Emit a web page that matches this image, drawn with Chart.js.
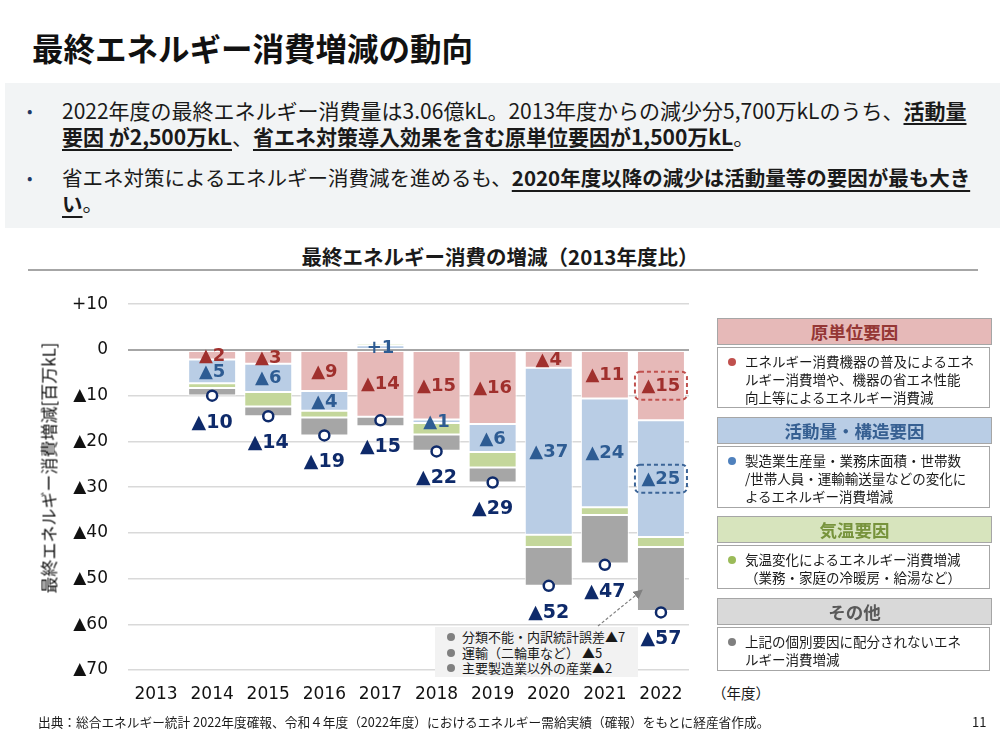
<!DOCTYPE html>
<html lang="ja">
<head>
<meta charset="utf-8">
<script src="https://cdn.jsdelivr.net/npm/chart.js@4.4.1/dist/chart.umd.min.js"></script>
<style>
  body { margin: 0; background: #fff; }
  #page { position: relative; width: 1000px; height: 750px; overflow: hidden;
          font-family: "Noto Sans CJK JP", "Noto Sans", sans-serif; color: #1a1a1a; }
  .abs { position: absolute; }
  #title { left: 32px; top: 27px; font-size: 31.5px; font-weight: 700; line-height: 40px; color: #111; }
  #summary { left: 5px; top: 83px; width: 995px; height: 145px; background: #F2F4F5; }
  .para { left: 62px; font-size: 20.5px; line-height: 26px; white-space: nowrap; }
  .dot { left: 27px; font-size: 16px; line-height: 26px; color: #1F3864; }
  .em { font-weight: 700; text-decoration: underline; text-decoration-thickness: 2px; text-underline-offset: 4px; }
  #subtitle { left: 0; width: 1000px; top: 243px; text-align: center; font-size: 20.5px; font-weight: 700; line-height: 26px; }
  #rule { left: 28px; top: 269px; width: 950px; height: 2px; background: #A6A6A6; }
  #chartBox { left: 0; top: 274px; width: 700px; height: 449px; }
  #ytitle { left: 48px; top: 468px; font-size: 17px; color: #111; white-space: nowrap; transform: translate(-50%, -50%) rotate(-90deg); }
  #unit { left: 712px; top: 682px; font-size: 14.5px; line-height: 22px; }
  .head { left: 717px; width: 273px; height: 25px; line-height: 25px; border: 1px solid #A6A6A6;
          text-align: center; font-size: 17.5px; font-weight: 700; }
  .desc { left: 717px; width: 273px; border: 1px solid #A6A6A6; background: #fff;
          font-size: 13.5px; line-height: 18px; box-sizing: border-box; padding: 4px 0 0 27px; }
  .desc i { position: absolute; left: 10px; top: 10px; width: 8px; height: 8px; border-radius: 50%; }
  #note { left: 435px; top: 627px; width: 203px; height: 50px; background: #F2F2F2;
          font-size: 13px; line-height: 15.5px; box-sizing: border-box; padding: 2px 0 0 27px; white-space: nowrap; }
  #note span { position: relative; display: block; }
  #note span::before { content: ""; position: absolute; left: -15px; top: 4px; width: 8px; height: 8px;
                       border-radius: 50%; background: #808080; }
  #footer { left: 38px; top: 713px; font-size: 12.7px; line-height: 18px; white-space: nowrap; }
  #pageno { left: 972px; top: 713px; font-size: 13px; line-height: 18px; }
</style>
</head>
<body>
<div id="page">
  <div id="title" class="abs">最終エネルギー消費増減の動向</div>
  <div id="summary" class="abs"></div>
  <div class="abs dot" style="top:97px">•</div>
  <div class="abs para" style="top:97px;font-size:21px">2022年度の最終エネルギー消費量は3.06億kL。2013年度からの減少分5,700万kLのうち、<span class="em">活動量</span><br><span class="em">要因 が2,500万kL</span>、<span class="em">省エネ対策導入効果を含む原単位要因が1,500万kL</span>。</div>
  <div class="abs dot" style="top:164px">•</div>
  <div class="abs para" style="top:164px">省エネ対策によるエネルギー消費減を進めるも、<span class="em">2020年度以降の減少は活動量等の要因が最も大き</span><br><span class="em">い</span>。</div>

  <div id="subtitle" class="abs">最終エネルギー消費の増減（2013年度比）</div>
  <div id="rule" class="abs"></div>

  <div id="chartBox" class="abs"><canvas id="factorChart"></canvas></div>
  <div id="ytitle" class="abs">最終エネルギー消費増減[百万kL]</div>
  <div id="unit" class="abs">（年度）</div>

  <div id="note" class="abs">
    <span>分類不能・内訳統計誤差▲7</span>
    <span>運輸（二輪車など） ▲5</span>
    <span>主要製造業以外の産業▲2</span>
  </div>
  <svg class="abs" style="left:0;top:0" width="1000" height="750">
    <defs>
      <marker id="ah" markerWidth="8" markerHeight="8" refX="6" refY="4" orient="auto">
        <path d="M0,0 L8,4 L0,8 z" fill="#808080"/>
      </marker>
    </defs>
    <line x1="598" y1="626" x2="641" y2="591" stroke="#808080" stroke-width="1.2" stroke-dasharray="3,2" marker-end="url(#ah)"/>
  </svg>

  <div class="abs head" style="top:318px;background:#E6B9B8;color:#953735">原単位要因</div>
  <div class="abs desc" style="top:347px;height:61px"><i style="background:#C0504D"></i>エネルギー消費機器の普及によるエネ<br>ルギー消費増や、機器の省エネ性能<br>向上等によるエネルギー消費減</div>
  <div class="abs head" style="top:417px;background:#B9CDE5;color:#376092">活動量・構造要因</div>
  <div class="abs desc" style="top:446px;height:62px"><i style="background:#4F81BD"></i>製造業生産量・業務床面積・世帯数<br>/世帯人員・運輸輸送量などの変化に<br>よるエネルギー消費増減</div>
  <div class="abs head" style="top:516px;background:#D7E4BD;color:#77933C">気温要因</div>
  <div class="abs desc" style="top:545px;height:44px"><i style="background:#9BBB59"></i>気温変化によるエネルギー消費増減<br>（業務・家庭の冷暖房・給湯など）</div>
  <div class="abs head" style="top:598px;background:#D9D9D9;color:#595959">その他</div>
  <div class="abs desc" style="top:627px;height:44px"><i style="background:#7F7F7F"></i>上記の個別要因に配分されないエネ<br>ルギー消費増減</div>

  <div id="footer" class="abs">出典：総合エネルギー統計 2022年度確報、令和４年度（2022年度）におけるエネルギー需給実績（確報）をもとに経産省作成。</div>
  <div id="pageno" class="abs">11</div>
</div>

<script>
// fiscal years
const years = ['2013', '2014', '2015', '2016', '2017', '2018', '2019', '2020', '2021', '2022'];

// change vs 2013, million kL, per factor
const unitFactor     = [null, -2.1, -3.0, -9.0, -14.6, -15.2, -16.2, -3.9, -10.6, -15.4];
const activityFactor = [null, -5.2, -6.2, -4.3,   1.0,  -0.8, -6.15, -36.5, -23.8, -25.5];
const weatherFactor  = [null, -1.05, -3.2, -1.5,  0.5,  -2.5, -3.35, -2.7, -1.7, -2.2];
const otherFactor    = [null, -1.6, -2.1, -3.9,  -2.1, -3.55, -3.3, -8.5, -10.6, -14.0];
const totalChange    = [null, -10.0, -14.5, -18.7, -15.4, -22.2, -29.0, -51.6, -47.0, -57.4];

// labels as printed on the chart
const unitLabels     = ['', '▲2', '▲3', '▲9', '▲14', '▲15', '▲16', '▲4', '▲11', '▲15'];
const activityLabels = ['', '▲5', '▲6', '▲4', '+1', '▲1', '▲6', '▲37', '▲24', '▲25'];
const totalLabels    = ['', '▲10', '▲14', '▲19', '▲15', '▲22', '▲29', '▲52', '▲47', '▲57'];
const boxedYears     = ['2022'];

const yTicks = [10, 0, -10, -20, -30, -40, -50, -60, -70];

const numFont = '"DejaVu Sans", "Noto Sans CJK JP", sans-serif';

function tickText(v) {
    if (v > 0) return '+' + v;
    if (v < 0) return '▲' + Math.abs(v);
    return '0';
}

const labelPlugin = {
    id: 'factorLabels',
    afterDatasetsDraw(chart) {
        const ctx = chart.ctx;
        const unitMeta = chart.getDatasetMeta(0);
        const actMeta = chart.getDatasetMeta(1);
        const totMeta = chart.getDatasetMeta(4);
        ctx.save();
        ctx.textAlign = 'center';
        ctx.textBaseline = 'middle';
        ctx.font = 'bold 18px ' + numFont;

        const drawSeg = (meta, texts, color, boxColor) => {
            texts.forEach((t, i) => {
                if (!t) return;
                const el = meta.data[i];
                const cy = (el.y + el.base) / 2;
                ctx.fillStyle = color;
                ctx.fillText(t, el.x, cy + 1);
                if (boxedYears.includes(years[i])) {
                    ctx.strokeStyle = boxColor;
                    ctx.lineWidth = 2;
                    ctx.setLineDash([4, 3]);
                    ctx.beginPath();
                    ctx.roundRect(el.x - 26, cy - 14, 52, 28, 5);
                    ctx.stroke();
                    ctx.setLineDash([]);
                }
            });
        };
        drawSeg(unitMeta, unitLabels, '#A0302D', '#C0504D');
        drawSeg(actMeta, activityLabels, '#2E5C93', '#3B6497');

        ctx.font = 'bold 19px ' + numFont;
        ctx.fillStyle = '#0E2A6A';
        totalLabels.forEach((t, i) => {
            if (!t) return;
            const pt = totMeta.data[i];
            ctx.fillText(t, pt.x, pt.y + 27);
        });
        ctx.restore();
    }
};

const barStyle = { borderColor: '#fff', borderWidth: 1, borderSkipped: false, stack: 'factors', order: 2 };

new Chart(document.getElementById('factorChart'), {
    type: 'bar',
    data: {
        labels: years,
        datasets: [
            { label: '原単位要因', data: unitFactor, backgroundColor: '#E6B9B8', ...barStyle },
            { label: '活動量・構造要因', data: activityFactor, backgroundColor: '#B9CDE5', ...barStyle },
            { label: '気温要因', data: weatherFactor, backgroundColor: '#C4D79B', ...barStyle },
            { label: 'その他', data: otherFactor, backgroundColor: '#A6A6A6', ...barStyle },
            {
                type: 'line',
                label: '合計',
                data: totalChange,
                stack: 'total',
                order: 0,
                showLine: false,
                pointRadius: 5,
                pointBorderWidth: 2.5,
                pointBackgroundColor: '#fff',
                pointBorderColor: '#0E2A6A'
            }
        ]
    },
    options: {
        responsive: true,
        maintainAspectRatio: false,
        animation: false,
        layout: { padding: { top: 13, right: 11, bottom: 0, left: 0 } },
        datasets: { bar: { categoryPercentage: 1, barPercentage: 0.855 } },
        plugins: { legend: { display: false }, tooltip: { enabled: false } },
        scales: {
            x: {
                stacked: true,
                grid: { display: false, drawTicks: false },
                border: { display: false },
                ticks: { color: '#111', font: { family: numFont, size: 17 }, padding: 14 },
                afterFit(scale) { scale.height = 53; }
            },
            y: {
                stacked: true,
                min: -70,
                max: 10,
                afterBuildTicks(scale) { scale.ticks = yTicks.map(v => ({ value: v })); },
                grid: {
                    drawTicks: false,
                    color: c => c.tick && c.tick.value === 0 ? '#A6A6A6' : '#D9D9D9',
                    lineWidth: c => c.tick && c.tick.value === 0 ? 2 : 1.5
                },
                border: { display: false },
                ticks: {
                    color: '#111',
                    padding: 20,
                    font: { family: numFont, size: 17 },
                    callback: v => tickText(v)
                },
                afterFit(scale) { scale.width = 128; }
            }
        }
    },
    plugins: [labelPlugin]
});
</script>
</body>
</html>
